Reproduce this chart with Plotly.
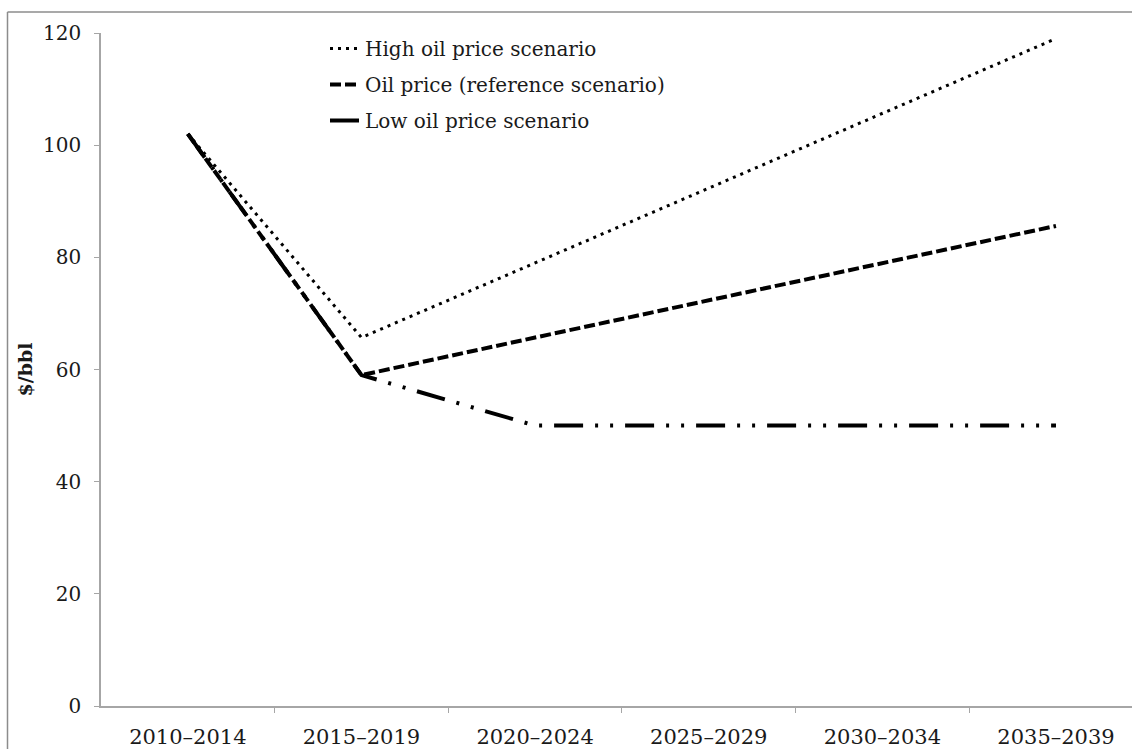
import plotly.graph_objects as go

categories = ["2010–2014", "2015–2019", "2020–2024", "2025–2029", "2030–2034", "2035–2039"]
high_oil = [102, 65.7, 79, 92.3, 105.6, 119]
reference_oil = [102, 59, 65.7, 72.3, 79, 85.6]
low_oil = [102, 59, 50, 50, 50, 50]

W, H = 1132, 749
L, R, T, B = 101, 0, 33, 43
pw = W - L - R
ph = H - T - B

FONT = "DejaVu Serif"
TXT = "#1a1a1a"
AX = "#a6a6a6"

xs = list(range(len(categories)))

fig = go.Figure()
fig.add_trace(go.Scatter(
    x=xs, y=high_oil, mode="lines", name="High oil price scenario",
    legendgroup="a",
    line=dict(color="black", width=3, dash="3px,5px"),
))
fig.add_trace(go.Scatter(
    x=xs, y=reference_oil, mode="lines", name="Oil price (reference scenario)",
    legendgroup="b",
    line=dict(color="black", width=4, dash="11px,4px"),
))
fig.add_trace(go.Scatter(
    x=xs, y=low_oil, mode="lines", name="Low oil price scenario",
    legendgroup="c",
    line=dict(color="black", width=4, dash="29px,12px,3px,12px,3px,12px"),
))

def px_x(p):
    return (p - L) / pw

def px_y(p):
    return (H - B - p) / ph

fig.update_layout(
    width=W, height=H,
    margin=dict(l=L, r=R, t=T, b=B, pad=0),
    paper_bgcolor="white", plot_bgcolor="white",
    font=dict(family=FONT, color=TXT, size=20),
    showlegend=True,
    legend=dict(
        x=px_x(325), y=px_y(29), xanchor="left", yanchor="top",
        bgcolor="rgba(0,0,0,0)", borderwidth=0,
        font=dict(family=FONT, size=20, color=TXT),
        tracegroupgap=7, traceorder="grouped",
    ),
    xaxis=dict(
        range=[-0.5, (W - R - 188) / 173.6],
        tickmode="array", tickvals=xs, ticktext=categories,
        ticks="", showgrid=False, zeroline=False,
        showline=True, linecolor=AX, linewidth=1.5,
        tickfont=dict(family=FONT, size=21, color=TXT),
        ticklabelstandoff=11,
        minor=dict(tickmode="array", tickvals=[0.5, 1.5, 2.5, 3.5, 4.5],
                   ticks="outside", ticklen=5, tickcolor=AX, tickwidth=1),
    ),
    yaxis=dict(
        range=[0, 120], tickmode="array", tickvals=[0, 20, 40, 60, 80, 100, 120],
        ticks="outside", ticklen=5, tickcolor=AX, tickwidth=1,
        showgrid=False, zeroline=False,
        showline=True, linecolor=AX, linewidth=1.5,
        tickfont=dict(family=FONT, size=20, color=TXT),
        ticklabelstandoff=9,
    ),
    annotations=[dict(
        text="<b>$/bbl</b>", xref="paper", yref="paper",
        x=px_x(24), y=0.5, xanchor="center", yanchor="middle",
        textangle=-90, showarrow=False,
        font=dict(family=FONT, size=19, color=TXT),
    )],
    shapes=[
        dict(type="line", xref="paper", yref="paper",
             x0=px_x(7.5), x1=px_x(W), y0=px_y(12), y1=px_y(12),
             line=dict(color="#8c8c8c", width=1.5)),
        dict(type="line", xref="paper", yref="paper",
             x0=px_x(7.5), x1=px_x(7.5), y0=px_y(12), y1=px_y(H),
             line=dict(color="#8c8c8c", width=1.5)),
    ],
)

fig.write_html(
    "out.html",
    config={"displayModeBar": False},
    post_script="document.body.style.margin='0';document.body.style.overflow='hidden';",
)
